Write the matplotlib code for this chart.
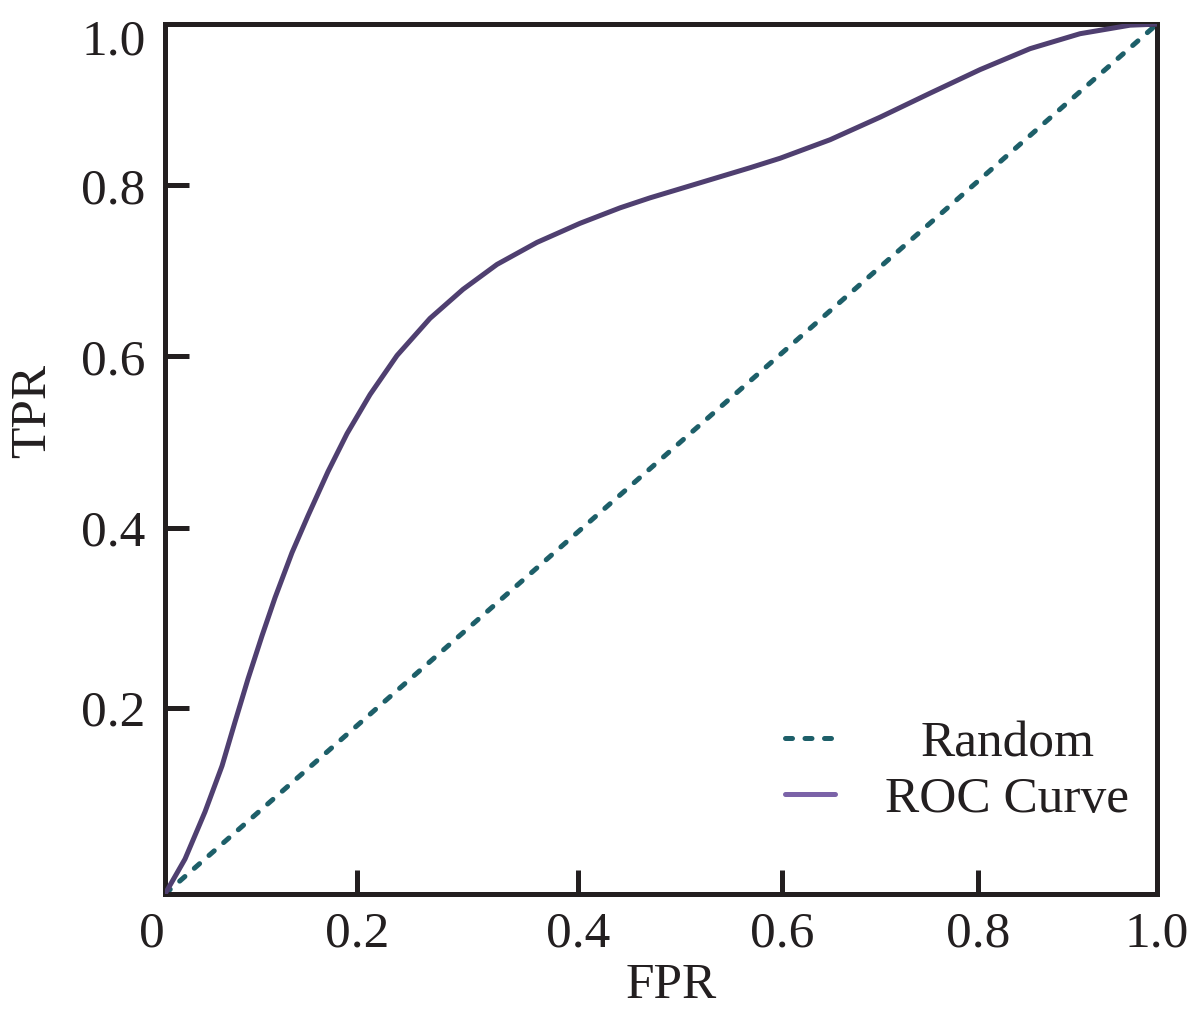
import matplotlib
matplotlib.use("Agg")
import matplotlib.pyplot as plt
from matplotlib.transforms import ScaledTranslation

plt.rcParams['font.family'] = ['Liberation Serif', 'DejaVu Serif']

# ROC curve points
fpr = [0.0, 0.0202, 0.0403, 0.0575, 0.0706, 0.0837, 0.0978, 0.1109, 0.128,
       0.1442, 0.1643, 0.1835, 0.2067, 0.2339, 0.2671, 0.3004, 0.3347, 0.375,
       0.4183, 0.4587, 0.4889, 0.5393, 0.5897, 0.62, 0.6704, 0.7208, 0.7712,
       0.8216, 0.872, 0.9224, 0.9728, 1.0]
tpr = [0.0, 0.0403, 0.0944, 0.1473, 0.1979, 0.2474, 0.2969, 0.3406, 0.3924,
       0.435, 0.4856, 0.5293, 0.5742, 0.6191, 0.6617, 0.6951, 0.7238, 0.7491,
       0.771, 0.7888, 0.8003, 0.8176, 0.8349, 0.8458, 0.8671, 0.893, 0.9206,
       0.9477, 0.9718, 0.989, 0.9988, 1.0]
rand_x = [0.0, 1.0]
rand_y = [0.0, 1.0]

# tick marks sit where the reference put them
xtick_pos = [0.0, 0.1935, 0.4163, 0.622, 0.8196, 1.0]
xtick_lab = ['0', '0.2', '0.4', '0.6', '0.8', '1.0']
ytick_pos = [0.214, 0.4212, 0.618, 0.8147, 1.0]
ytick_lab = ['0.2', '0.4', '0.6', '0.8', '1.0']

labels = ['Random', 'ROC Curve']
ink = '#231f20'

fig = plt.figure(figsize=(12, 10.27), dpi=100)
ax = fig.add_axes([0.1375, 0.1295, 0.8267, 0.847])

ax.plot(rand_x, rand_y, color='#1d5f69', linewidth=3.6, linestyle=(0, (1.4, 2.5)),
        dash_capstyle='round', label=labels[0], zorder=2)
ax.plot(fpr, tpr, color='#4f3f70', linewidth=3.6, solid_capstyle='round',
        solid_joinstyle='round', label=labels[1], zorder=3)

ax.set_xlim(0, 1)
ax.set_ylim(0, 1)
ax.set_xticks(xtick_pos)
ax.set_xticklabels(xtick_lab)
ax.set_yticks(ytick_pos)
ax.set_yticklabels(ytick_lab)
ax.tick_params(direction='in', length=17, width=3.6, colors=ink, labelsize=37)
ax.tick_params(axis='x', pad=12)
ax.tick_params(axis='y', pad=14)
for sp in ax.spines.values():
    sp.set_linewidth(3.6)
    sp.set_color(ink)

ax.set_xlabel('FPR', fontsize=37, color=ink, labelpad=4)
ax.set_ylabel('TPR', fontsize=37, color=ink, labelpad=18)
ax.xaxis.label.set_x(0.51)
ax.yaxis.label.set_y(0.555)

leg = ax.legend(loc='center left', bbox_to_anchor=(785 / 1200, (1027 - 771.5) / 1027),
                bbox_transform=fig.transFigure, frameon=False, fontsize=37,
                handlelength=0.97, handletextpad=0.98, borderpad=0,
                borderaxespad=0, labelspacing=0.16)
leg.get_lines()[1].set_color('#7b63a8')
for t in leg.get_texts():
    t.set_color(ink)

fig.canvas.draw()
r = fig.canvas.get_renderer()

# center the legend labels on each other, like the reference
widths = [t.get_window_extent(r).width for t in leg.get_texts()]
wmax = max(widths)
for t, w in zip(leg.get_texts(), widths):
    t.set_position(((wmax - w) / 2, 0))

# corner labels nudged off the corner as in the reference
x0 = ax.xaxis.get_major_ticks()[0].label1
x0.set_transform(x0.get_transform() + ScaledTranslation(-0.13, 0, fig.dpi_scale_trans))
y1 = ax.yaxis.get_major_ticks()[-1].label1
y1.set_transform(y1.get_transform() + ScaledTranslation(0, -0.13, fig.dpi_scale_trans))

fig.savefig('out.png', dpi=100)
